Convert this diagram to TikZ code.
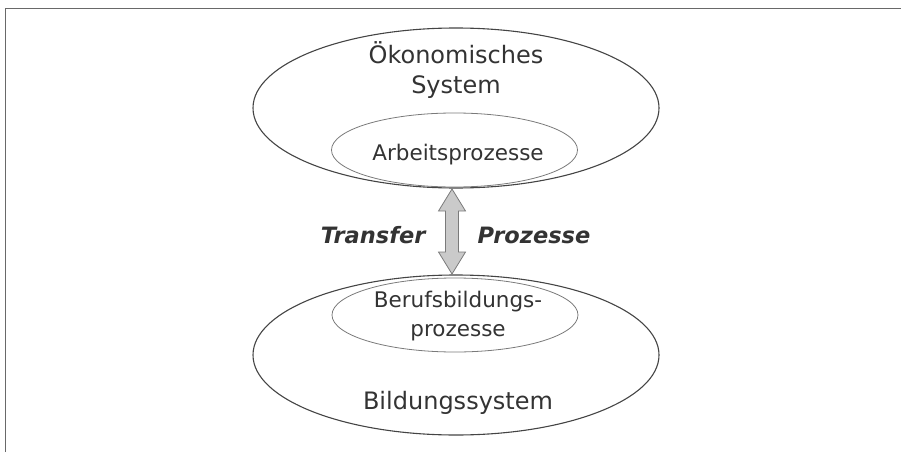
\documentclass[tikz,border=0pt]{standalone}
\usepackage{fontspec}
\setmainfont{DejaVu Sans}
\usetikzlibrary{calc}
\definecolor{txt}{HTML}{333333}
\definecolor{lineD}{HTML}{444444}
\definecolor{lineL}{HTML}{7A7A7A}
\definecolor{arrowfill}{HTML}{CACACA}
\tikzset{
  outerell/.style={draw=lineD, line width=1.1pt},
  innerell/.style={draw=lineL, line width=0.8pt},
  bigtext/.style={text=txt, font=\fontsize{24}{30}\selectfont, align=center},
  midtext/.style={text=txt, font=\fontsize{21.5}{29}\selectfont, align=center},
  transtext/.style={text=txt, font=\fontsize{22.5}{26}\selectfont\bfseries\itshape},
  arrowshape/.style={draw=lineL, fill=arrowfill, line width=0.8pt, line join=miter},
}
\begin{document}
\begin{tikzpicture}[x=1pt,y=-1pt]
\useasboundingbox (0,0) rectangle (901,452);
% frame
\draw[draw=lineD!80, line width=1.3pt] (5.5,452) -- (5.5,8.5) -- (901,8.5);
% top system
\draw[outerell] (456,108) ellipse [x radius=203, y radius=80];
\draw[innerell] (454.5,150) ellipse [x radius=123, y radius=37];
\node[bigtext] (oek) at (456,70) {Ökonomisches\\System};
\node[midtext] (arb) at (458,155) {Arbeitsprozesse};
% bottom system
\draw[outerell] (456,355) ellipse [x radius=203, y radius=80];
\draw[innerell] (455,315) ellipse [x radius=123, y radius=37];
\node[midtext] (beruf) at (458,316) {Berufsbildungs-\\prozesse};
\node[bigtext] (bild) at (458,403) {Bildungssystem};
% arrow
\coordinate (atop) at (452,189);
\coordinate (abot) at (452,274);
\draw[arrowshape]
  (atop) -- ($(atop)+(13.5,22)$) -- ($(atop)+(6.5,22)$) -- ($(abot)+(6.5,-22)$)
  -- ($(abot)+(13.5,-22)$) -- (abot) -- ($(abot)+(-13.5,-22)$) -- ($(abot)+(-6.5,-22)$)
  -- ($(atop)+(-6.5,22)$) -- ($(atop)+(-13.5,22)$) -- cycle;
\node[transtext, anchor=east] (tr) at (429,235) {Transfer};
\node[transtext, anchor=west] (pr) at (474,235) {Prozesse};
\end{tikzpicture}
\end{document}
